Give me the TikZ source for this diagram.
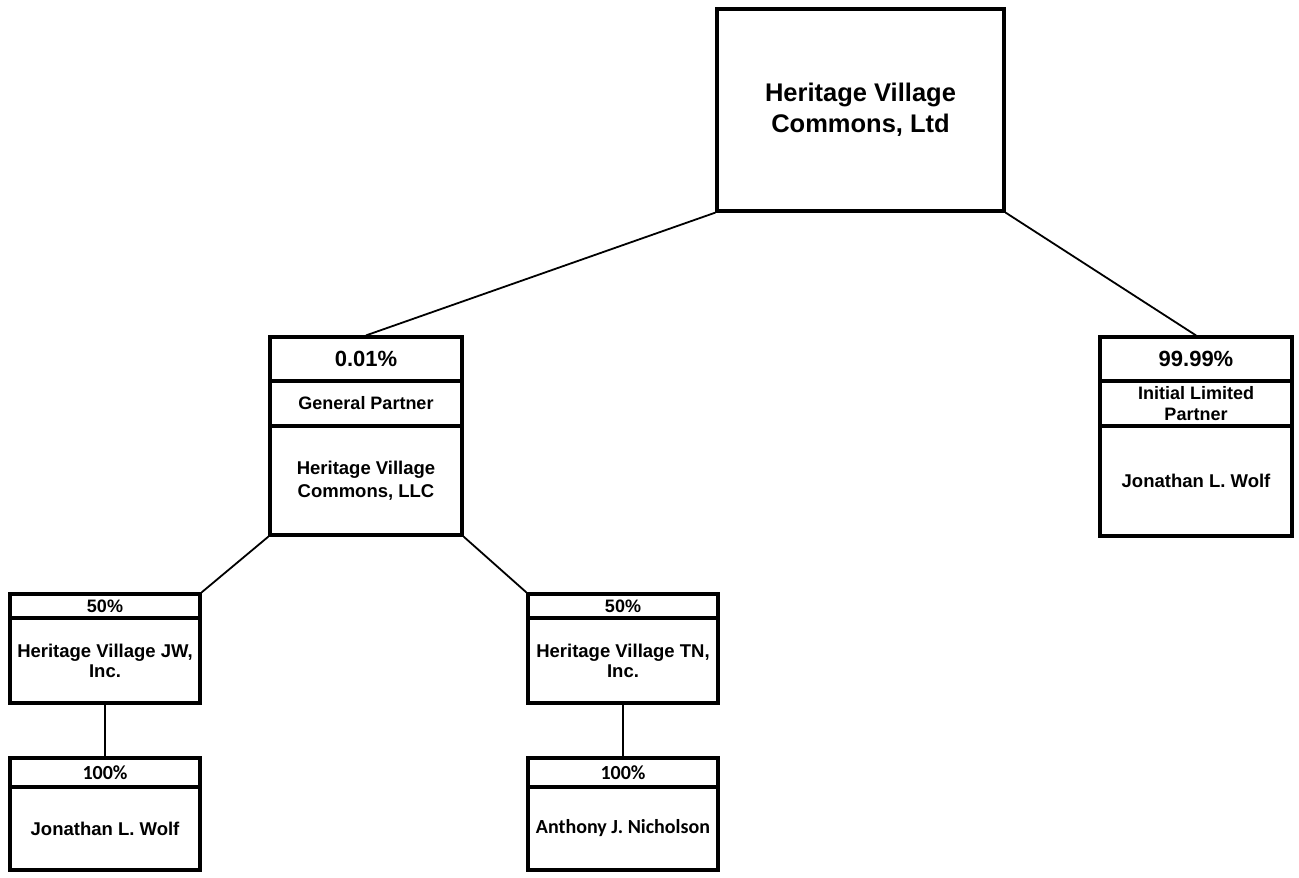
\documentclass[tikz,border=0pt]{standalone}
\usepackage{fontspec}
\setmainfont{Liberation Sans}
\newfontfamily\calfont{Carlito}
\begin{document}
\begin{tikzpicture}[x=1pt,y=-1pt,
  box/.style={draw, line width=3.2pt, inner sep=0pt, align=center, minimum width=190pt},
  link/.style={line width=1.8pt},
  tfont/.style={font=\bfseries\fontsize{25.5}{31}\selectfont},
  pfont/.style={font=\bfseries\fontsize{22}{26}\selectfont},
  rfont/.style={font=\bfseries\fontsize{18}{21}\selectfont},
  bfont/.style={font=\bfseries\fontsize{18.5}{23}\selectfont},
  sfont/.style={font=\bfseries\fontsize{18.5}{20}\selectfont},
  cfont/.style={font=\calfont\bfseries\fontsize{20}{24}\selectfont}]
\useasboundingbox (0,0) rectangle (1299,878);
% top
\node[box, tfont, minimum width=287pt, minimum height=202pt] (top) at (860.5,110) {Heritage Village\\Commons, Ltd};
% general partner
\node[box, pfont, minimum width=192pt, minimum height=44pt] (gph) at (366,359) {0.01\%};
\node[box, rfont, minimum width=192pt, minimum height=45pt] (gpr) at (366,403.5) {\raisebox{-3pt}{General Partner}};
\node[box, bfont, minimum width=192pt, minimum height=109pt] (gpb) at (366,480.5) {Heritage Village\\Commons, LLC};
% limited partner
\node[box, pfont, minimum width=192pt, minimum height=44pt] (lph) at (1196,359) {99.99\%};
\node[box, rfont, minimum width=192pt, minimum height=45pt] (lpr) at (1196,403.5) {Initial Limited\\Partner};
\node[box, bfont, minimum width=192pt, minimum height=110pt] (lpb) at (1196,481) {\raisebox{-4pt}{Jonathan L. Wolf}};
% JW
\node[box, rfont, minimum height=24pt] (jwh) at (105,606) {50\%};
\node[box, sfont, minimum height=85pt] (jwb) at (105,660.5) {Heritage Village JW,\\Inc.};
% TN
\node[box, rfont, minimum height=24pt] (tnh) at (623,606) {50\%};
\node[box, sfont, minimum height=85pt] (tnb) at (623,660.5) {Heritage Village TN,\\Inc.};
% bottom left
\node[box, cfont, minimum height=29pt] (jlh) at (105,772.5) {100\%};
\node[box, bfont, minimum height=83pt] (jlb) at (105,828.5) {Jonathan L. Wolf};
% bottom middle
\node[box, cfont, minimum height=29pt] (anh) at (623,772.5) {100\%};
\node[box, cfont, minimum height=83pt] (anb) at (623,828.5) {Anthony J. Nicholson};
% connectors
\draw[link] (top.south west) -- (gph.north);
\draw[link] (top.south east) -- (lph.north);
\draw[link] (gpb.south west) -- (jwh.north east);
\draw[link] (gpb.south east) -- (tnh.north west);
\draw[link] (jwb.south) -- (jlh.north);
\draw[link] (tnb.south) -- (anh.north);
\end{tikzpicture}
\end{document}
